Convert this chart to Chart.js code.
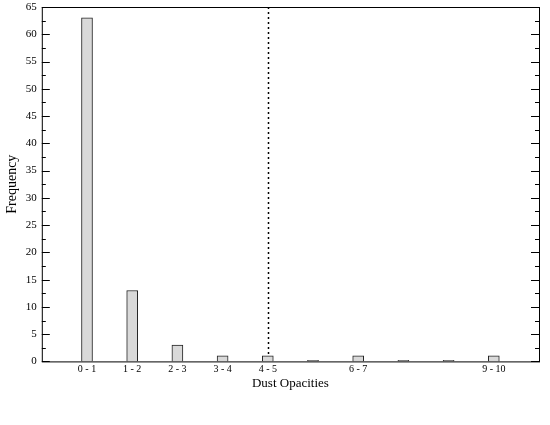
<!DOCTYPE html>
<html lang="en">
<head>
  <meta charset="UTF-8">
  <title>Dust Opacities</title>
  <script src="https://cdn.jsdelivr.net/npm/chart.js"></script>
  <style>
    body { margin: 0; background: #fff; }
    #wrap { width: 550px; height: 425px; }
  </style>
</head>
<body>
  <div id="wrap"><canvas id="chart"></canvas></div>
  <script>
    // bins of dust opacity and their counts
    const bins = ['0 - 1', '1 - 2', '2 - 3', '3 - 4', '4 - 5', '5 - 6', '6 - 7', '7 - 8', '8 - 9', '9 - 10'];
    const shownLabels = ['0 - 1', '1 - 2', '2 - 3', '3 - 4', '4 - 5', '6 - 7', '9 - 10'];
    const counts = [63, 13, 3, 1, 1, 0, 1, 0, 0, 1];
    const markerBin = 4; // dotted line sits on "4 - 5"
    const yMax = 65;

    const serif = "'Liberation Serif', 'DejaVu Serif', serif";

    // box frame, inward y ticks and the dotted marker line
    const decor = {
      id: 'decor',
      afterDatasetsDraw(chart) {
        const { ctx, chartArea: a, scales: { x, y } } = chart;
        ctx.save();
        ctx.strokeStyle = '#000';
        ctx.lineWidth = 1;
        ctx.strokeRect(a.left + 0.5, a.top + 0.5, a.right - a.left, a.bottom - a.top);

        for (let v = 0; v <= yMax; v += 2.5) {
          const py = Math.round(y.getPixelForValue(v)) + 0.5;
          const len = v % 5 === 0 ? 8 : 4;
          ctx.beginPath();
          ctx.moveTo(a.left, py); ctx.lineTo(a.left + len, py);
          ctx.moveTo(a.right, py); ctx.lineTo(a.right - len, py);
          ctx.stroke();
        }

        const px = Math.round(x.getPixelForValue(markerBin)) + 0.5;
        ctx.setLineDash([2, 3]);
        ctx.lineWidth = 1.5;
        ctx.beginPath();
        ctx.moveTo(px, a.top);
        ctx.lineTo(px, y.getPixelForValue(counts[markerBin]));
        ctx.stroke();
        ctx.restore();
      }
    };

    new Chart(document.getElementById('chart'), {
      type: 'bar',
      data: {
        datasets: [{
          data: counts.map((c, i) => ({ x: i, y: c })),
          backgroundColor: '#d9d9d9',
          borderColor: '#222',
          borderWidth: 1,
          borderSkipped: 'bottom',
          barThickness: 11,
          minBarLength: 1
        }]
      },
      options: {
        responsive: true,
        maintainAspectRatio: false,
        animation: false,
        layout: { padding: { left: 0, right: 11, top: 7, bottom: 30 } },
        plugins: { legend: { display: false }, tooltip: { enabled: false } },
        scales: {
          x: {
            type: 'linear',
            min: -1,
            max: 10,
            offset: false,
            grid: { display: false, drawTicks: false },
            border: { display: false },
            afterBuildTicks(scale) {
              scale.ticks = bins.map((b, i) => ({ value: i }));
            },
            ticks: {
              autoSkip: false,
              maxRotation: 0,
              padding: 2,
              color: '#000',
              font: { family: serif, size: 10 },
              callback: (v) => shownLabels.includes(bins[v]) ? bins[v] : ''
            },
            title: {
              display: true,
              text: 'Dust Opacities',
              color: '#000',
              padding: { top: -2 },
              font: { family: serif, size: 13 }
            }
          },
          y: {
            min: 0,
            max: yMax,
            grid: { display: false, drawTicks: false },
            border: { display: false },
            afterFit(scale) { scale.paddingTop = 0; },
            ticks: {
              stepSize: 5,
              padding: 5,
              color: '#000',
              font: { family: serif, size: 11 }
            },
            title: {
              display: true,
              text: 'Frequency',
              color: '#000',
              padding: { bottom: 0 },
              font: { family: serif, size: 14 }
            }
          }
        }
      },
      plugins: [decor]
    });
  </script>
</body>
</html>
